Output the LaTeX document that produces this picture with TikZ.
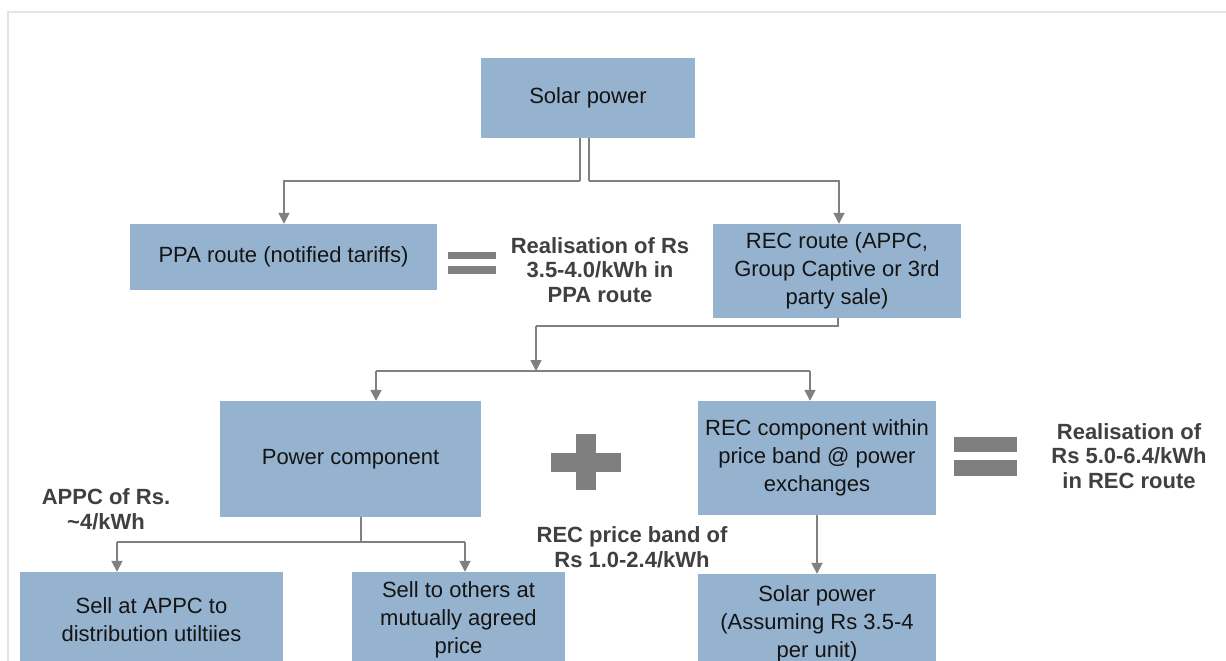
\documentclass[tikz,border=0pt]{standalone}
\usepackage{fontspec}
\setmainfont{Liberation Sans}
\usetikzlibrary{arrows.meta}
\definecolor{boxblue}{RGB}{149,179,207}
\definecolor{linegray}{RGB}{128,128,128}
\definecolor{symgray}{RGB}{127,127,127}
\definecolor{labgray}{RGB}{64,64,64}
\definecolor{framegray}{RGB}{229,229,229}
\definecolor{txt}{RGB}{20,20,20}
\tikzset{
  x=1pt, y=-1pt,
  blue box/.style={fill=boxblue, draw=none, inner sep=0pt, align=center,
    text=txt, font=\fontsize{22}{28}\selectfont},
  bold label/.style={align=center, text=labgray, inner sep=0pt,
    font=\fontsize{22}{24.5}\selectfont\bfseries},
  conn/.style={draw=linegray, line width=1.8pt},
  arr/.style={conn, -{Triangle[length=11pt,width=11pt]}},
  sym/.style={fill=symgray, draw=none},
}
\begin{document}
\begin{tikzpicture}
\useasboundingbox (0,0) rectangle (1226,661);
\clip (0,0) rectangle (1226,661);
\fill[white] (0,0) rectangle (1226,661);
\draw[framegray, line width=1.8pt] (8,661) -- (8,12) -- (1226,12);

% boxes
\node[blue box, minimum width=214pt, minimum height=80pt] (solar) at (588,98) {Solar power};
\node[blue box, minimum width=307pt, minimum height=66pt] (ppa) at (283.5,257) {PPA route (notified tariffs)};
\node[blue box, minimum width=248pt, minimum height=94pt] (rec) at (837,271) {REC route (APPC,\\Group Captive or 3rd\\party sale)};
\node[blue box, minimum width=261pt, minimum height=116pt] (powc) at (350.5,459) {Power component};
\node[blue box, minimum width=238pt, minimum height=114pt] (recc) at (817,458) {REC component within\\price band @ power\\exchanges};
\node[blue box, minimum width=263pt, minimum height=96pt] (appc) at (151.5,620) {Sell at APPC to\\distribution utiltiies};
\node[blue box, minimum width=213pt, minimum height=96pt] (others) at (458.5,620) {Sell to others at\\mutually agreed\\price};
\node[blue box, minimum width=238pt, minimum height=99pt] (solar2) at (817,623.5) {Solar power\\(Assuming Rs 3.5-4\\per unit)};

% labels
\node[bold label] (real1) at (600,270) {Realisation of Rs\\3.5-4.0/kWh in\\PPA route};
\node[bold label] (real2) at (1129,456) {Realisation of\\Rs 5.0-6.4/kWh\\in REC route};
\node[bold label] (appcl) at (106,509) {APPC of Rs.\\\textasciitilde4/kWh};
\node[bold label] (band) at (632,547) {REC price band of\\Rs 1.0-2.4/kWh};

% symbols
\fill[sym] (448,252) rectangle (496,259);
\fill[sym] (448,266) rectangle (496,274);
\fill[sym] (954,437) rectangle (1017,452);
\fill[sym] (954,460) rectangle (1017,476);
\fill[sym] (551,453) rectangle (621,472);
\fill[sym] (576,434) rectangle (596,490);

% connectors
\coordinate (sl) at (580,181);
\coordinate (sr) at (589,181);
\draw[conn] (sl |- solar.south) -- (sl);
\draw[arr] (sl) -| ([xshift=0.5pt]ppa.north);
\draw[conn] (sr |- solar.south) -- (sr);
\draw[arr] (sr) -| ([xshift=2pt]rec.north);

\coordinate (k1) at (536,326);
\coordinate (j1) at (536,371);
\draw[conn] ([xshift=1pt]rec.south) |- (k1);
\draw[arr] (k1) -- (j1);
\coordinate (jl) at (376,371);
\coordinate (jr) at (810,371);
\draw[conn] (jl) -- (jr);
\draw[arr] (jl) -- (jl |- powc.north);
\draw[arr] (jr) -- (jr |- recc.north);

\coordinate (p1) at (361,542);
\coordinate (pl) at (117,542);
\coordinate (pr) at (465,542);
\draw[conn] (p1 |- powc.south) -- (p1);
\draw[conn] (pl) -- (pr);
\draw[arr] (pl) -- (pl |- appc.north);
\draw[arr] (pr) -- (pr |- others.north);

\draw[arr] (recc.south) -- (solar2.north);
\end{tikzpicture}
\end{document}
